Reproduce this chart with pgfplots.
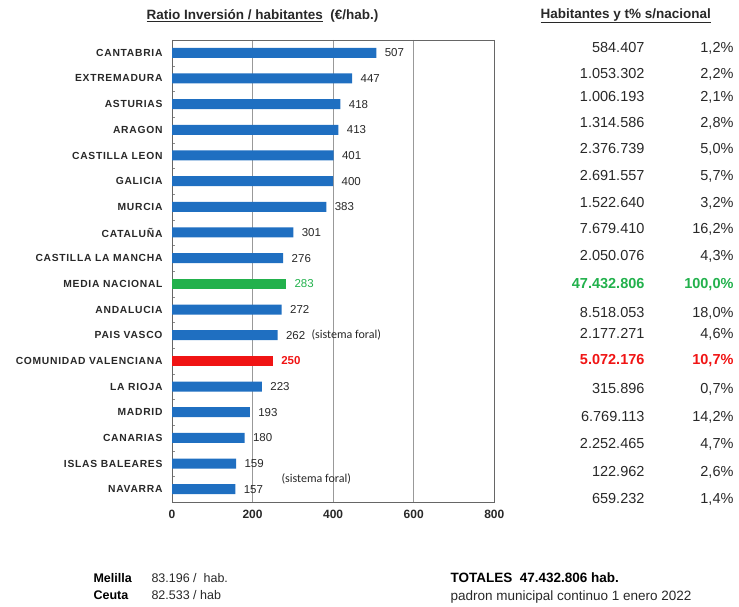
\documentclass[border=0pt]{standalone}
\usepackage{fontspec}
\setmainfont{Liberation Sans}
\newfontfamily\carlito{Carlito}
\usepackage{pgfplots}
\pgfplotsset{compat=1.18}
\definecolor{barblue}{RGB}{31,111,193}
\definecolor{bargreen}{RGB}{34,177,76}
\definecolor{barred}{RGB}{240,20,20}
\definecolor{txt}{RGB}{40,40,40}
\newcommand\catfont{\fontsize{10.3}{12}\selectfont\bfseries\addfontfeature{LetterSpace=7}}
\newcommand\numfont{\fontsize{14.5}{16}\selectfont}
\begin{document}
\begin{tikzpicture}[x=1pt,y=1pt]
\useasboundingbox (0pt,0pt) rectangle (739pt,607pt);
\begin{axis}[
  at={(172pt,567pt)}, anchor=north west,
  scale only axis, width=322.3pt, height=462pt,
  xmin=0, xmax=800, ymin=-0.5, ymax=17.5, y dir=reverse,
  xbar, bar width=10pt, bar shift=0pt,
  xtick={0,200,400,600,800},
  ytick={0,...,17},
  yticklabels={CANTABRIA,EXTREMADURA,ASTURIAS,ARAGON,CASTILLA LEON,GALICIA,MURCIA,CATALUÑA,CASTILLA LA MANCHA,MEDIA NACIONAL,ANDALUCIA,PAIS VASCO,COMUNIDAD VALENCIANA,LA RIOJA,MADRID,CANARIAS,ISLAS BALEARES,NAVARRA},
  minor ytick={0.5,1.5,...,16.5},
  xmajorgrids, major grid style={black!40, line width=0.6pt},
  major tick length=0pt, minor tick length=3pt, tick align=inside,
  minor tick style={black!45},
  ytick pos=left, xtick pos=bottom,
  axis line style={black!60, line width=0.6pt},
  /pgf/number format/assume math mode=true,
  yticklabel style={font=\catfont, text=txt, xshift=-6pt},
  xticklabel style={font=\fontsize{12}{14}\selectfont\bfseries, text=txt, yshift=-5pt},
  nodes near coords, point meta=x,
  nodes near coords style={anchor=west, xshift=5pt, font=\fontsize{11.5}{13}\selectfont, text=txt},
  clip=false,
]
\addplot[fill=barblue, draw=none] coordinates {
(507,0) (447,1) (418,2) (413,3) (401,4) (400,5) (383,6) (301,7) (276,8)
(272,10) (262,11) (223,13) (193,14) (180,15) (159,16) (157,17)};
\addplot[fill=bargreen, draw=none, nodes near coords style={text=bargreen}] coordinates {(283,9)};
\addplot[fill=barred, draw=none, nodes near coords style={text=barred, font=\fontsize{11.5}{13}\selectfont\bfseries}] coordinates {(250,12)};
\end{axis}
% titles
\node[anchor=west, font=\fontsize{13.5}{15}\selectfont\bfseries, text=txt] at (143pt,591pt) {\underline{Ratio Inversión / habitantes}\ \ (€/hab.)};
\node[anchor=west, font=\fontsize{13.5}{15}\selectfont\bfseries, text=txt] at (537pt,591pt) {\underline{Habitantes y t\% s/nacional}};
% notes
\node[anchor=west, font=\carlito\fontsize{12}{14}\selectfont, text=txt] at (308pt,272pt) {(sistema foral)};
\node[anchor=west, font=\carlito\fontsize{12}{14}\selectfont, text=txt] at (278pt,128pt) {(sistema foral)};
% right table
\foreach \y/\a/\b in {
47/584.407/{1,2\%},
73/1.053.302/{2,2\%},
96/1.006.193/{2,1\%},
122/1.314.586/{2,8\%},
148/2.376.739/{5,0\%},
175/2.691.557/{5,7\%},
202/1.522.640/{3,2\%},
228/7.679.410/{16,2\%},
255/2.050.076/{4,3\%},
312/8.518.053/{18,0\%},
333/2.177.271/{4,6\%},
388/315.896/{0,7\%},
416/6.769.113/{14,2\%},
443/2.252.465/{4,7\%},
471/122.962/{2,6\%},
498/659.232/{1,4\%}}{
  \node[anchor=base east, font=\numfont, text=txt] at (648pt,601.8pt-\y pt) {\a};
  \node[anchor=base east, font=\numfont, text=txt] at (737pt,601.8pt-\y pt) {\b};
}
\node[anchor=base east, font=\numfont\bfseries, text=bargreen] at (648pt,318.8pt) {47.432.806};
\node[anchor=base east, font=\numfont\bfseries, text=bargreen] at (737pt,318.8pt) {100,0\%};
\node[anchor=base east, font=\numfont\bfseries, text=barred] at (648pt,242.8pt) {5.072.176};
\node[anchor=base east, font=\numfont\bfseries, text=barred] at (737pt,242.8pt) {10,7\%};
% bottom
\node[anchor=west, font=\fontsize{12.5}{14}\selectfont\bfseries, text=black] at (90pt,29pt) {Melilla};
\node[anchor=west, font=\fontsize{12.5}{14}\selectfont, text=txt] at (148pt,29pt) {83.196 /\ \ hab.};
\node[anchor=west, font=\fontsize{12.5}{14}\selectfont\bfseries, text=black] at (90pt,12pt) {Ceuta};
\node[anchor=west, font=\fontsize{12.5}{14}\selectfont, text=txt] at (148pt,12pt) {82.533 / hab};
\node[anchor=west, font=\fontsize{13.5}{15}\selectfont\bfseries, text=black] at (447pt,29pt) {TOTALES\ \ 47.432.806 hab.};
\node[anchor=west, font=\fontsize{13.5}{15}\selectfont, text=txt] at (447pt,10pt) {padron municipal continuo 1 enero 2022};
\end{tikzpicture}
\end{document}
